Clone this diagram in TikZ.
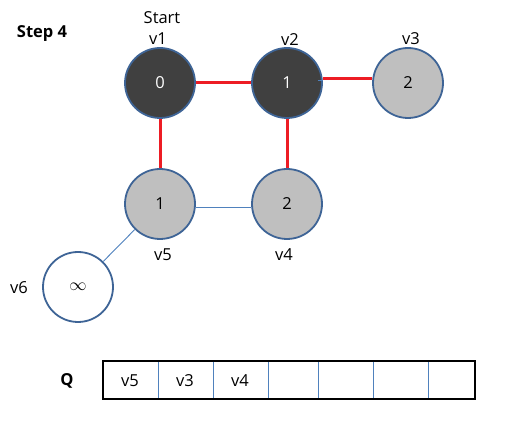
\documentclass[tikz,border=0pt]{standalone}
\usepackage{fontspec}
\setmainfont{Open Sans}
\definecolor{darkfill}{HTML}{404040}
\definecolor{greyfill}{HTML}{BFBFBF}
\definecolor{bordc}{HTML}{3E6496}
\definecolor{thinc}{HTML}{4F81BD}
\definecolor{redc}{HTML}{ED1C24}
\begin{document}
\begin{tikzpicture}[x=1pt,y=-1pt,font=\fontsize{16.5}{19}\selectfont,
  vert/.style={circle,draw=bordc,line width=1.8pt,minimum size=70pt,inner sep=0pt},
  done/.style={vert,fill=darkfill,text=white},
  seen/.style={vert,fill=greyfill,text=black},
  fresh/.style={vert,fill=white,text=black},
  redE/.style={draw=redc,line width=3pt},
  thinE/.style={draw=thinc,line width=0.9pt},
  lbl/.style={inner sep=0pt,text=black},
  boldlbl/.style={lbl,font=\fontsize{16.5}{19}\selectfont\bfseries},
  qcell/.style={draw=thinc,line width=1pt}]
\useasboundingbox (0,0) rectangle (528,430);
% vertices
\node[done]  (v1) at (160,83)  {0};
\node[done]  (v2) at (287,83)  {1};
\node[seen]  (v3) at (408,83)  {2};
\node[seen]  (v5) at (160,204) {1};
\node[seen]  (v4) at (287,204) {2};
\node[fresh] (v6) at (78,287)  {\fontsize{16}{18}\selectfont\raisebox{1pt}{$\infty$}};
% edges
\draw[redE] (v1) -- (v2);
\draw[redE] (v1) -- (v5);
\draw[redE] (v2) -- (v4);
\draw[redE] ([yshift=4pt]v2.east) -- ([yshift=4pt]v3.west);
\draw[thinE] ([xshift=-5pt,yshift=3pt]v2.east) -- ([yshift=3pt]v2.east);
\draw[thinE] ([yshift=-3pt]v5.east) -- ([yshift=-3pt]v4.west);
\draw[thinE] (v5) -- (v6);
% labels
\node[boldlbl] (step) at (42,34) {Step 4};
\node[lbl] (start) at (162,18) {Start};
\node[lbl] (l1) at (158,39) {v1};
\node[lbl] (l2) at (290,40) {v2};
\node[lbl] (l3) at (411,39) {v3};
\node[lbl] (l5) at (163,255) {v5};
\node[lbl] (l4) at (284,255) {v4};
\node[lbl] (l6) at (19,288) {v6};
% queue
\node[boldlbl] (q) at (67,381) {Q};
\foreach \x in {158,213,268,318,373,428} \draw[qcell] (\x,361) -- (\x,399);
\draw[black,line width=2.4pt] (103,361) rectangle (475,399);
\node[lbl] (q1) at (130,381) {v5};
\node[lbl] (q2) at (185,381) {v3};
\node[lbl] (q3) at (240,381) {v4};
\end{tikzpicture}
\end{document}
